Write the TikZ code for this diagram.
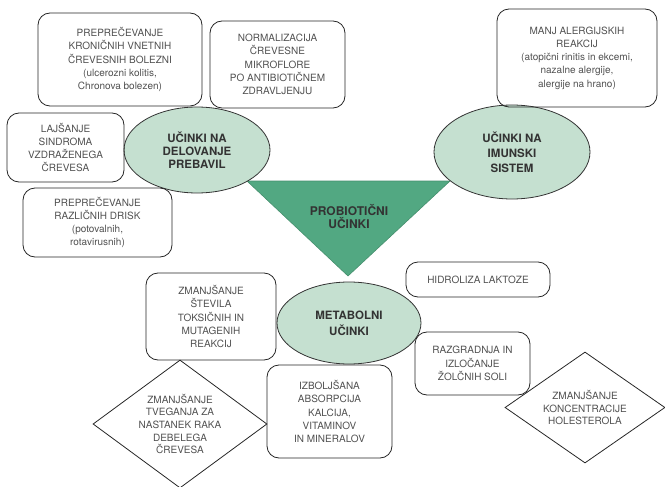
\documentclass[tikz,border=0pt]{standalone}
\usepackage{fontspec}
\setmainfont{TeX Gyre Heros}
\usepackage{tikz}
\usetikzlibrary{shapes.geometric}
\definecolor{svetlozel}{RGB}{197,224,208}
\definecolor{temnozel}{RGB}{82,168,130}
\definecolor{besedilo}{RGB}{80,80,80}

\begin{document}
\begin{tikzpicture}[x=1pt,y=-1pt,
  okvir/.style={draw=black!85,line width=0.8pt,rounded corners=12pt,align=center,
    text=besedilo,inner sep=0pt,font=\fontsize{10}{13.3}\selectfont},
  romb/.style={draw=black!85,line width=0.8pt,diamond,aspect=1.36,align=center,
    text=besedilo,inner sep=0pt,font=\fontsize{10}{12.7}\selectfont},
  elipsa/.style={draw=black!80,line width=0.8pt,ellipse,fill=svetlozel,inner sep=0pt,
    align=center,text=black!80,font=\bfseries\fontsize{11.5}{13.3}\selectfont}]
\useasboundingbox (0,0) rectangle (665,487);
% osrednji trikotnik
\draw[fill=temnozel,draw=temnozel!85!black,line width=0.6pt](247,181)--(450,181)--(348,276)--cycle;
\node (probio) [align=center,text=black!80,font=\bfseries\fontsize{12}{13.3}\selectfont] at (349,216.5) {PROBIOTIČNI\\UČINKI};
% tri skupine ucinkov
\node (prebavil) [elipsa,minimum width=146pt,minimum height=86pt] at (197,150) {UČINKI NA\\DELOVANJE\\PREBAVIL};
\node (imunski) [elipsa,minimum width=156pt,minimum height=94pt,font=\bfseries\fontsize{11.5}{15}\selectfont] at (512,152) {UČINKI NA\\IMUNSKI\\SISTEM};
\node (metabolni) [elipsa,minimum width=144pt,minimum height=82pt,font=\bfseries\fontsize{11.5}{16}\selectfont] at (349,323) {METABOLNI\\UČINKI};
% prebavila
\node (kronicne) [okvir,minimum width=164pt,minimum height=93pt] at (120,59.5) {PREPREČEVANJE\\KRONIČNIH VNETNIH\\ČREVESNIH BOLEZNI\\(ulcerozni kolitis,\\Chronova bolezen)};
\node (mikroflora) [okvir,minimum width=135pt,minimum height=87pt] at (277.5,64.5) {NORMALIZACIJA\\ČREVESNE\\MIKROFLORE\\PO ANTIBIOTIČNEM\\ZDRAVLJENJU};
\node (sindrom) [okvir,minimum width=117pt,minimum height=69pt] at (65.5,147.5) {LAJŠANJE\\SINDROMA\\VZDRAŽENEGA\\ČREVESA};
\node (driske) [okvir,minimum width=149pt,minimum height=69pt] at (97.5,222.5) {PREPREČEVANJE\\RAZLIČNIH DRISK\\(potovalnih,\\rotavirusnih)};
% imunski sistem
\node (alergije) [okvir,minimum width=160pt,minimum height=98pt] at (577,58) {MANJ ALERGIJSKIH\\REAKCIJ\\(atopični rinitis in ekcemi,\\nazalne alergije,\\alergije na hrano)};
% metabolizem
\node (toksicni) [okvir,minimum width=130pt,minimum height=87pt] at (211,316.5) {ZMANJŠANJE\\ŠTEVILA\\TOKSIČNIH IN\\MUTAGENIH\\REAKCIJ};
\node (laktoza) [okvir,minimum width=144pt,minimum height=35pt] at (478,279.5) {HIDROLIZA LAKTOZE};
\node (zolc) [okvir,minimum width=115pt,minimum height=63pt] at (472.5,363.5) {RAZGRADNJA IN\\IZLOČANJE\\ŽOLČNIH SOLI};
\node (absorpcija) [okvir,minimum width=125pt,minimum height=93pt] at (329.5,411.5) {IZBOLJŠANA\\ABSORPCIJA\\KALCIJA,\\VITAMINOV\\IN MINERALOV};
\node (rak) [romb,minimum width=174pt,minimum height=128pt] at (180,424) {ZMANJŠANJE\\TVEGANJA ZA\\NASTANEK RAKA\\DEBELEGA\\ČREVESA};
\node (holesterol) [romb,minimum width=160pt,minimum height=111pt] at (585,407.5) {ZMANJŠANJE\\KONCENTRACIJE\\HOLESTEROLA};
\end{tikzpicture}
\end{document}
